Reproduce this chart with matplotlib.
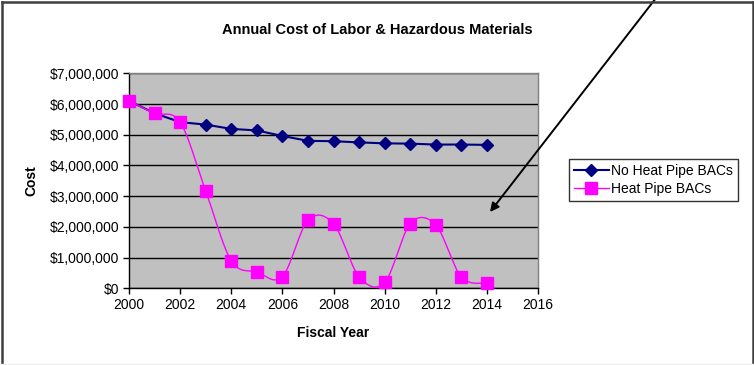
import numpy as np
import matplotlib
matplotlib.use("Agg")
import matplotlib.pyplot as plt
from matplotlib.ticker import FuncFormatter, MultipleLocator
from matplotlib.lines import Line2D
from matplotlib.patches import FancyArrowPatch

plt.rcParams["font.family"] = ["Liberation Sans", "DejaVu Sans"]

# Annual cost per fiscal year (USD)
years = [2000, 2001, 2002, 2003, 2004, 2005, 2006, 2007,
         2008, 2009, 2010, 2011, 2012, 2013, 2014]
no_heat_pipe = [6100000, 5700000, 5410000, 5330000, 5190000, 5140000, 4960000, 4800000,
                4790000, 4750000, 4720000, 4710000, 4680000, 4680000, 4670000]
heat_pipe = [6100000, 5700000, 5410000, 3170000, 900000, 530000, 380000, 2210000,
             2100000, 380000, 190000, 2100000, 2060000, 370000, 170000]

series_labels = ["No Heat Pipe BACs", "Heat Pipe BACs"]
title = "Annual Cost of Labor & Hazardous Materials"

W, H = 754, 365


def smooth(xs, ys, steps=30):
    # Catmull-Rom style smoothing, like a spreadsheet "smoothed line"
    xs = np.asarray(xs, float)
    ys = np.asarray(ys, float)
    px = np.concatenate([[xs[0]], xs, [xs[-1]]])
    py = np.concatenate([[ys[0]], ys, [ys[-1]]])
    out_x, out_y = [], []
    t = np.linspace(0, 1, steps)
    for i in range(1, len(px) - 2):
        p0x, p1x, p2x, p3x = px[i - 1], px[i], px[i + 1], px[i + 2]
        p0y, p1y, p2y, p3y = py[i - 1], py[i], py[i + 1], py[i + 2]
        c1x, c1y = p1x + (p2x - p0x) / 6, p1y + (p2y - p0y) / 6
        c2x, c2y = p2x - (p3x - p1x) / 6, p2y - (p3y - p1y) / 6
        bx = (1 - t) ** 3 * p1x + 3 * (1 - t) ** 2 * t * c1x + 3 * (1 - t) * t ** 2 * c2x + t ** 3 * p2x
        by = (1 - t) ** 3 * p1y + 3 * (1 - t) ** 2 * t * c1y + 3 * (1 - t) * t ** 2 * c2y + t ** 3 * p2y
        out_x.extend(bx)
        out_y.extend(by)
    return np.array(out_x), np.array(out_y)


fig = plt.figure(figsize=(W / 100, H / 100), dpi=100)
fig.patch.set_facecolor("white")

ax = fig.add_axes([129 / W, (H - 288.3) / H, 409 / W, 215 / H])
ax.set_facecolor("#C0C0C0")

ax.set_xlim(2000, 2016)
ax.set_ylim(0, 7000000)
ax.xaxis.set_major_locator(MultipleLocator(2))
ax.yaxis.set_major_locator(MultipleLocator(1000000))
ax.yaxis.set_major_formatter(FuncFormatter(lambda v, p: "${:,.0f}".format(v)))
ax.grid(axis="y", color="black", linewidth=1.0)
ax.set_axisbelow(True)

for side in ("top", "right"):
    ax.spines[side].set_color("#808080")
    ax.spines[side].set_linewidth(1.0)
for side in ("left", "bottom"):
    ax.spines[side].set_color("black")
    ax.spines[side].set_linewidth(1.0)

ax.tick_params(axis="both", direction="out", length=4, width=1, color="black",
               labelsize=10, pad=3)

# No heat pipe series: straight segments with diamonds
ax.plot(years, no_heat_pipe, color="#000080", linewidth=1.5, marker="D",
        markersize=6.5, markerfacecolor="#000080", markeredgecolor="#000080",
        label=series_labels[0], zorder=3)

# Heat pipe series: smoothed line with squares
sx, sy = smooth(years, heat_pipe)
ax.plot(sx, sy, color="#FF00FF", linewidth=1.0, zorder=4, clip_on=False)
ax.plot(years, heat_pipe, linestyle="none", marker="s", markersize=8,
        markerfacecolor="#FF00FF", markeredgecolor="#FF00FF", zorder=5, clip_on=False)

ax.set_xlabel("Fiscal Year", fontsize=10, fontweight="bold", labelpad=10)
ax.set_ylabel("Cost", fontsize=10, fontweight="bold", labelpad=8)
fig.text(377 / W, 1 - 30 / H, title, ha="center", va="center",
         fontsize=10.5, fontweight="bold")

handles = [
    Line2D([], [], color="#000080", linewidth=1.5, marker="D", markersize=6.5),
    Line2D([], [], color="#FF00FF", linewidth=1.0, marker="s", markersize=8),
]
leg = fig.legend(handles, series_labels, loc="upper left",
                 bbox_to_anchor=(569 / W, 1 - 159 / H), fontsize=10,
                 frameon=True, fancybox=False, edgecolor="black",
                 handlelength=2.5, handletextpad=0.2, borderpad=0.35,
                 labelspacing=0.3, borderaxespad=0)
leg.get_frame().set_linewidth(1.0)

# Pointer arrow coming in from above the chart
arrow = FancyArrowPatch((656, H + 2), (490, H - 212), transform=None,
                        arrowstyle="-|>", mutation_scale=13, color="black",
                        linewidth=1.4, shrinkA=0, shrinkB=0)
fig.patches.append(arrow)

# Chart frame
frame = dict(transform=fig.transFigure, color="#404040", linewidth=1.8)
fig.lines.append(Line2D([1.5 / W, 752.5 / W], [1 - 1.5 / H, 1 - 1.5 / H], **frame))
fig.lines.append(Line2D([1.5 / W, 1.5 / W], [0, 1 - 1.5 / H], **frame))
fig.lines.append(Line2D([752.5 / W, 752.5 / W], [0, 1 - 1.5 / H], **frame))
fig.lines.append(Line2D([0, 1], [1.5 / H, 1.5 / H], transform=fig.transFigure,
                        color="#EEEEEE", linewidth=1.0))

fig.savefig("out.png", dpi=100)
